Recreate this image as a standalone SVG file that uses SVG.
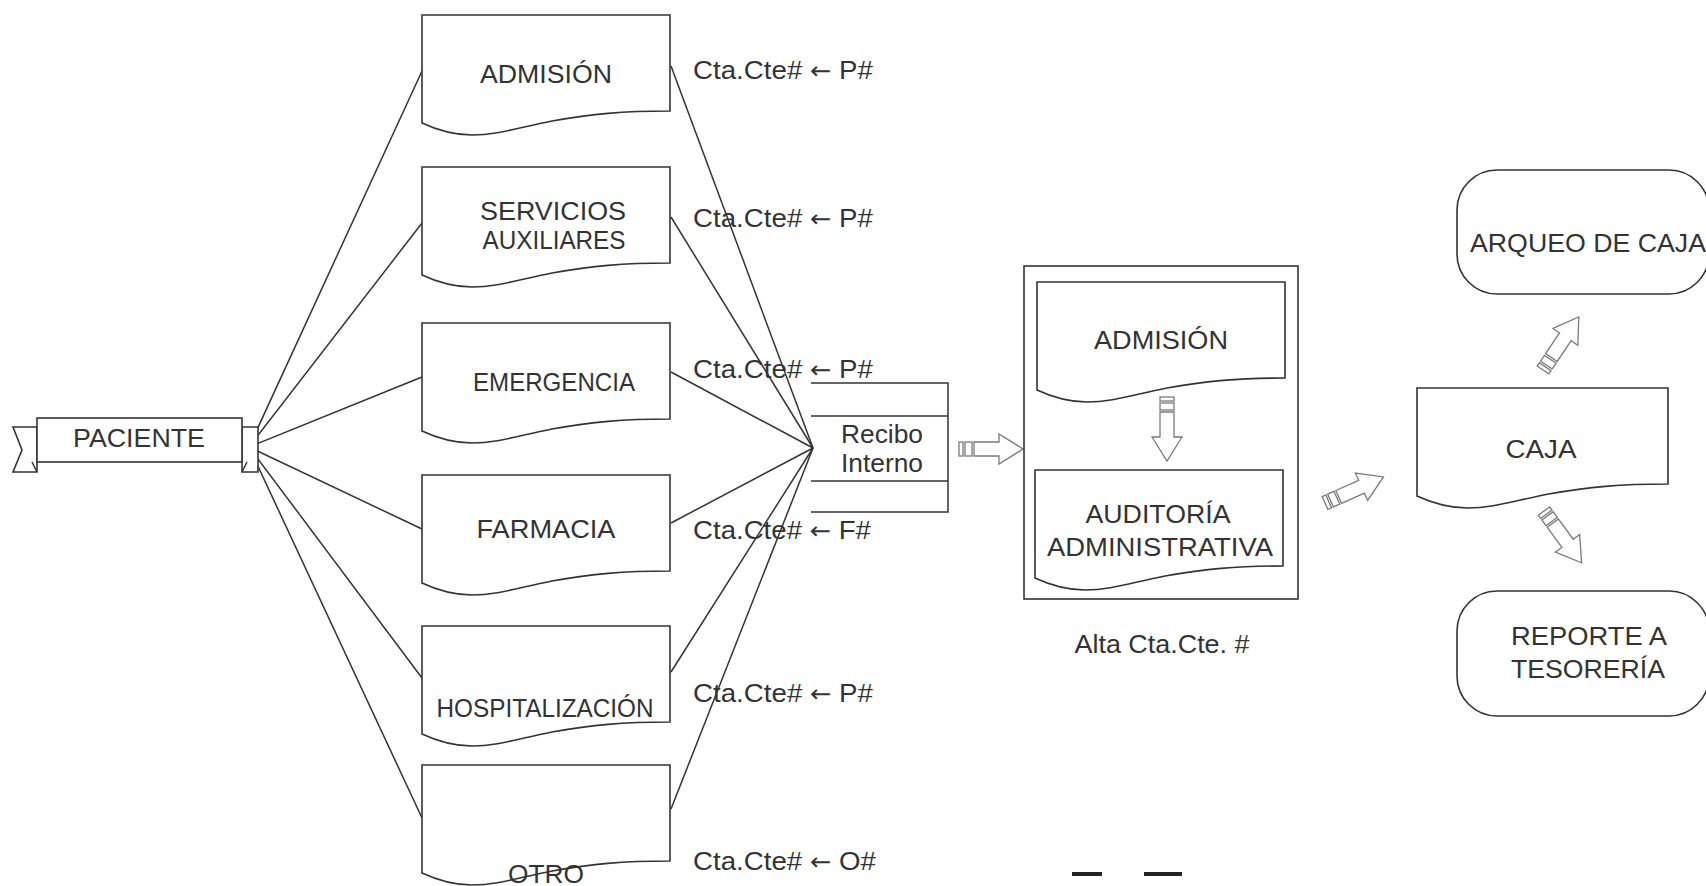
<svg xmlns="http://www.w3.org/2000/svg" xmlns:xlink="http://www.w3.org/1999/xlink" width="1706" height="886" viewBox="0 0 1706 886">
  <style>
    .shape { fill: #ffffff; stroke: #333333; stroke-width: 1.6; }
    .line { fill: none; stroke: #333333; stroke-width: 1.5; }
    .harrow { fill: #ffffff; stroke: #7a7a7a; stroke-width: 1.3; }
    .t { font-family: "Liberation Sans", Arial, sans-serif; font-size: 26px; fill: #333333; }
    .ar { font-family: "DejaVu Sans", sans-serif; font-size: 24px; }
    .c { text-anchor: middle; }
    .dash { stroke: #222222; stroke-width: 4; }
  </style>
  <defs>
    <!-- document shape with wavy bottom, origin at top-left -->
    <path id="doc" d="M0,0 H248 V96 C200,96 170,99 130,106 C95,113 75,120 50,120 C30,120 15,115 0,108 Z"/>
    <!-- hollow block arrow pointing right, origin at tail centre -->
    <g id="harrow">
      <rect x="0" y="-7" width="4" height="14"/>
      <rect x="6" y="-7" width="7" height="14"/>
      <path d="M15,-7 H40 V-15 L64,0 L40,15 V7 H15 Z"/>
    </g>
  </defs>

  <!-- connectors -->
  <g id="connectors" class="line">
    <path d="M249,447 L422,71"/>
    <path d="M249,447 L422,223"/>
    <path d="M249,447 L422,377"/>
    <path d="M249,447 L422,529"/>
    <path d="M249,447 L422,678"/>
    <path d="M249,447 L422,818"/>
    <path d="M671,66 L813,448"/>
    <path d="M671,217 L813,448"/>
    <path d="M671,372 L813,448"/>
    <path d="M671,523 L813,448"/>
    <path d="M671,672 L813,448"/>
    <path d="M671,809 L813,448"/>
  </g>

  <!-- patient banner -->
  <g id="paciente">
    <path class="shape" d="M37,427 H13 L22,450 L13,472 H37 Z"/>
    <path class="shape" d="M242,427 H258 V472 H242 Z"/>
    <path class="line" d="M32,462 L37,472 M247,462 L242,472"/>
    <rect class="shape" x="37" y="418" width="205" height="44"/>
    <text class="t c" x="139" y="447" textLength="132" lengthAdjust="spacingAndGlyphs">PACIENTE</text>
  </g>

  <!-- departments -->
  <g id="admision">
    <use href="#doc" class="shape" x="422" y="15"/>
    <text class="t c" x="546" y="83" textLength="132" lengthAdjust="spacingAndGlyphs">ADMISIÓN</text>
  </g>
  <g id="servicios">
    <use href="#doc" class="shape" x="422" y="167"/>
    <text class="t c" x="553" y="220" textLength="146" lengthAdjust="spacingAndGlyphs">SERVICIOS</text>
    <text class="t c" x="554" y="249" textLength="143" lengthAdjust="spacingAndGlyphs">AUXILIARES</text>
  </g>
  <g id="emergencia">
    <use href="#doc" class="shape" x="422" y="323"/>
    <text class="t c" x="554" y="391" textLength="162" lengthAdjust="spacingAndGlyphs">EMERGENCIA</text>
  </g>
  <g id="farmacia">
    <use href="#doc" class="shape" x="422" y="475"/>
    <text class="t c" x="546" y="538" textLength="139" lengthAdjust="spacingAndGlyphs">FARMACIA</text>
  </g>
  <g id="hospitalizacion">
    <use href="#doc" class="shape" x="422" y="626"/>
    <text class="t c" x="545" y="717" textLength="217" lengthAdjust="spacingAndGlyphs">HOSPITALIZACIÓN</text>
  </g>
  <g id="otro">
    <use href="#doc" class="shape" x="422" y="765"/>
    <text class="t c" x="546" y="883" textLength="76" lengthAdjust="spacingAndGlyphs">OTRO</text>
  </g>

  <!-- account labels -->
  <g id="labels">
    <text class="t" x="693" y="79" textLength="180" lengthAdjust="spacingAndGlyphs">Cta.Cte# <tspan class="ar">←</tspan> P#</text>
    <text class="t" x="693" y="227" textLength="180" lengthAdjust="spacingAndGlyphs">Cta.Cte# <tspan class="ar">←</tspan> P#</text>
    <text class="t" x="693" y="378" textLength="180" lengthAdjust="spacingAndGlyphs">Cta.Cte# <tspan class="ar">←</tspan> P#</text>
    <text class="t" x="693" y="539" textLength="178" lengthAdjust="spacingAndGlyphs">Cta.Cte# <tspan class="ar">←</tspan> F#</text>
    <text class="t" x="693" y="702" textLength="180" lengthAdjust="spacingAndGlyphs">Cta.Cte# <tspan class="ar">←</tspan> P#</text>
    <text class="t" x="693" y="870" textLength="183" lengthAdjust="spacingAndGlyphs">Cta.Cte# <tspan class="ar">←</tspan> O#</text>
  </g>

  <!-- internal receipt -->
  <g id="recibo">
    <path class="line" d="M811,383 H948 V512 H811 M811,416 H948 M811,481 H948"/>
    <text class="t c" x="882" y="443" textLength="82" lengthAdjust="spacingAndGlyphs">Recibo</text>
    <text class="t c" x="882" y="472" textLength="82" lengthAdjust="spacingAndGlyphs">Interno</text>
  </g>
  <use href="#harrow" class="harrow" transform="translate(959,449)"/>

  <!-- audit block -->
  <g id="auditoria">
    <rect class="shape" x="1024" y="266" width="274" height="333"/>
    <use href="#doc" class="shape" x="1037" y="282"/>
    <text class="t c" x="1161" y="349" textLength="134" lengthAdjust="spacingAndGlyphs">ADMISIÓN</text>
    <use href="#harrow" class="harrow" transform="translate(1167,397) rotate(90)"/>
    <use href="#doc" class="shape" x="1035" y="470"/>
    <text class="t c" x="1158" y="523" textLength="145" lengthAdjust="spacingAndGlyphs">AUDITORÍA</text>
    <text class="t c" x="1160" y="556" textLength="226" lengthAdjust="spacingAndGlyphs">ADMINISTRATIVA</text>
    <text class="t c" x="1162" y="653" textLength="175" lengthAdjust="spacingAndGlyphs">Alta Cta.Cte. #</text>
  </g>

  <use href="#harrow" class="harrow" transform="translate(1325,503) rotate(-24)"/>

  <!-- cash desk -->
  <g id="caja">
    <use href="#doc" class="shape" transform="translate(1417,388) scale(1.012,1)"/>
    <text class="t c" x="1541" y="458" textLength="71" lengthAdjust="spacingAndGlyphs">CAJA</text>
  </g>
  <use href="#harrow" class="harrow" transform="translate(1543,370) rotate(-56)"/>
  <use href="#harrow" class="harrow" transform="translate(1544,511) rotate(54)"/>

  <g id="arqueo">
    <rect class="shape" x="1457" y="170" width="252" height="124" rx="40"/>
    <text class="t" x="1470" y="252" textLength="236" lengthAdjust="spacingAndGlyphs">ARQUEO DE CAJA</text>
  </g>
  <g id="reporte">
    <rect class="shape" x="1457" y="591" width="252" height="125" rx="40"/>
    <text class="t c" x="1589" y="645" textLength="156" lengthAdjust="spacingAndGlyphs">REPORTE A</text>
    <text class="t c" x="1588" y="678" textLength="154" lengthAdjust="spacingAndGlyphs">TESORERÍA</text>
  </g>

  <!-- stray marks at the bottom -->
  <g id="marks">
    <path class="dash" d="M1072,874 H1102 M1144,874 H1182"/>
  </g>
</svg>
